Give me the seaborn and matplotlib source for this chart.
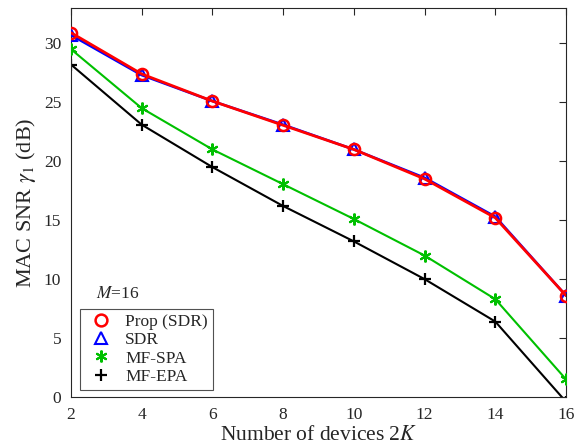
import matplotlib
matplotlib.use("Agg")
import matplotlib.pyplot as plt
import seaborn as sns
import pandas as pd
from matplotlib.lines import Line2D

devices = [2, 4, 6, 8, 10, 12, 14, 16]
prop_sdr = [30.9, 27.4, 25.1, 23.05, 21.0, 18.5, 15.2, 8.6]
sdr = [30.7, 27.3, 25.1, 23.1, 21.0, 18.6, 15.3, 8.6]
mf_spa = [29.5, 24.5, 21.0, 18.05, 15.1, 12.0, 8.3, 1.5]
mf_epa = [28.2, 23.1, 19.5, 16.2, 13.2, 10.0, 6.4, -0.4]
labels = ["Prop (SDR)", "SDR", "MF-SPA", "MF-EPA"]
xticks = [2, 4, 6, 8, 10, 12, 14, 16]
yticks = [0, 5, 10, 15, 20, 25, 30]

sns.set_theme(style="white")
plt.rcParams['font.family'] = ['Liberation Serif', 'DejaVu Serif']
plt.rcParams['mathtext.fontset'] = 'stix'

df = pd.DataFrame({
    "x": devices * 4,
    "y": prop_sdr + sdr + mf_spa + mf_epa,
    "series": [labels[0]] * 8 + [labels[1]] * 8 + [labels[2]] * 8 + [labels[3]] * 8,
})

fig = plt.figure(figsize=(5.84, 4.48), dpi=100)
ax = fig.add_axes([0.1216, 0.1138, 0.8476, 0.8684])

styles = {
    "MF-EPA": dict(color="black", marker="+", ms=9, lw=1.5, mew=1.6, z=2),
    "MF-SPA": dict(color="#00c000", marker=(6, 2, 0), ms=8.5, lw=1.5, mew=1.5, z=3),
    "SDR": dict(color="blue", marker="^", ms=8, lw=1.8, mew=1.5, z=4),
    "Prop (SDR)": dict(color="red", marker="o", ms=8, lw=2.0, mew=1.8, z=5),
}

for name in ["MF-EPA", "MF-SPA", "SDR", "Prop (SDR)"]:
    s = styles[name]
    sub = df[df["series"] == name]
    sns.lineplot(data=sub, x="x", y="y", ax=ax, color=s["color"], lw=s["lw"],
                 marker=s["marker"], markersize=s["ms"], markeredgewidth=s["mew"],
                 markerfacecolor="none", markeredgecolor=s["color"], zorder=s["z"],
                 legend=False, errorbar=None)

ax.set_xlim(2, 16)
ax.set_ylim(0, 33)
ax.set_xticks(xticks)
ax.set_yticks(yticks)
ax.tick_params(direction="in", top=True, right=True, length=5, width=0.8,
               labelsize=12.5, colors="#262626", labelcolor="#262626", pad=7)
for sp in ax.spines.values():
    sp.set_color("#262626")
    sp.set_linewidth(0.8)

ax.set_xlabel("Number of devices 2$K$", fontsize=15.5, color="#262626", labelpad=2)
ax.set_ylabel("MAC SNR $\\gamma_1$ (dB)", fontsize=16, color="#262626", labelpad=4)

handles = []
for name in labels:
    s = styles[name]
    handles.append(Line2D([], [], linestyle="none", marker=s["marker"], markersize=8.5,
                          markerfacecolor="none", markeredgecolor=s["color"],
                          markeredgewidth=s["mew"]))
leg = ax.legend(handles, labels, loc="lower left", bbox_to_anchor=(0.018, 0.018),
                fontsize=12.5, frameon=True, fancybox=False, handletextpad=0.5,
                borderpad=0.3, labelspacing=0.12, handlelength=1.8, borderaxespad=0)
leg.get_frame().set_edgecolor("#262626")
leg.get_frame().set_linewidth(0.8)

ax.text(0.05, 0.255, "$M$=16", transform=ax.transAxes, fontsize=12.5, color="#262626")

fig.savefig("out.png", dpi=100)
